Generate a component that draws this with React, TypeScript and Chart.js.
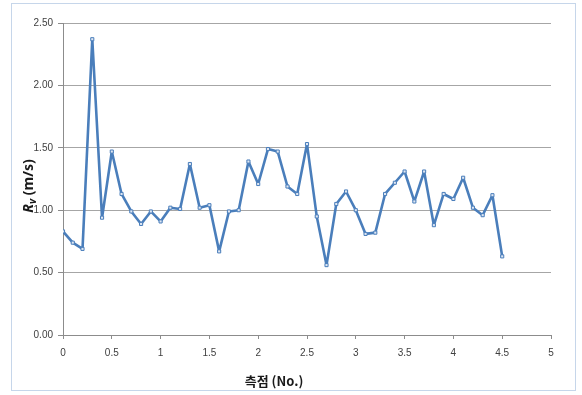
import React, { useEffect, useRef } from "react";
import { Chart, registerables } from "chart.js";

Chart.register(...registerables);

// Measuring stations (No.) along the section
const stations = [
  0, 0.1, 0.2, 0.3, 0.4, 0.5, 0.6, 0.7, 0.8, 0.9,
  1.0, 1.1, 1.2, 1.3, 1.4, 1.5, 1.6, 1.7, 1.8, 1.9,
  2.0, 2.1, 2.2, 2.3, 2.4, 2.5, 2.6, 2.7, 2.8, 2.9,
  3.0, 3.1, 3.2, 3.3, 3.4, 3.5, 3.6, 3.7, 3.8, 3.9,
  4.0, 4.1, 4.2, 4.3, 4.4, 4.5,
];

// Rv (m/s) measured at each station
const rvValues = [
  0.83, 0.74, 0.69, 2.37, 0.94, 1.47, 1.13, 0.99, 0.89, 0.99,
  0.91, 1.02, 1.01, 1.37, 1.02, 1.04, 0.67, 0.99, 1.0, 1.39,
  1.21, 1.49, 1.47, 1.19, 1.13, 1.53, 0.95, 0.56, 1.05, 1.15,
  1.0, 0.81, 0.82, 1.13, 1.22, 1.31, 1.07, 1.31, 0.88, 1.13,
  1.09, 1.26, 1.02, 0.96, 1.12, 0.63,
];

const xTickStep = 0.5;
const yTickStep = 0.5;
const xMax = 5;
const yMax = 2.5;

const xTitle = "측점 (No.)";
const yTitleMain = "R";
const yTitleSub = "v";
const yTitleUnit = " (m/s)";

const lineBlue = "#4a7ebb";
const gridGray = "#a6a6a6";
const axisGray = "#8c8c8c";
const labelColor = "#404040";

// Draws the outer frame and both axis titles (the y title needs a subscript)
const decorPlugin = {
  id: "decor",
  afterDraw(chart: Chart) {
    const ctx = chart.ctx;
    ctx.save();
    ctx.strokeStyle = "#c6d6ea";
    ctx.lineWidth = 1;
    ctx.strokeRect(11.5, 3.5, 564, 387);

    ctx.fillStyle = "#1a1a1a";
    ctx.textBaseline = "middle";
    ctx.textAlign = "center";
    ctx.font = "bold 13px 'Noto Sans CJK KR', 'Noto Sans', sans-serif";
    ctx.fillText(xTitle, 274, 381);

    // rotated y title: R with subscript v, then unit
    ctx.translate(28, 186);
    ctx.rotate(-Math.PI / 2);
    const mainFont = "italic bold 14px 'Noto Sans', sans-serif";
    const subFont = "italic bold 10px 'Noto Sans', sans-serif";
    const unitFont = "bold 14px 'Noto Sans', sans-serif";
    ctx.font = mainFont;
    const wR = ctx.measureText(yTitleMain).width;
    ctx.font = subFont;
    const wV = ctx.measureText(yTitleSub).width;
    ctx.font = unitFont;
    const wU = ctx.measureText(yTitleUnit).width;
    const total = wR + wV + wU;
    let x = -total / 2;
    ctx.textAlign = "left";
    ctx.textBaseline = "alphabetic";
    ctx.font = mainFont;
    ctx.fillText(yTitleMain, x, 5);
    x += wR;
    ctx.font = subFont;
    ctx.fillText(yTitleSub, x, 8);
    x += wV;
    ctx.font = unitFont;
    ctx.fillText(yTitleUnit, x, 5);
    ctx.restore();
  },
};

export default function App() {
  const canvasRef = useRef<HTMLCanvasElement | null>(null);

  useEffect(() => {
    if (!canvasRef.current) return;
    const points = stations.map((s, i) => ({ x: s, y: rvValues[i] }));
    const chart = new Chart(canvasRef.current, {
      type: "line",
      data: {
        datasets: [
          {
            data: points,
            borderColor: lineBlue,
            borderWidth: 2.6,
            borderJoinStyle: "round",
            tension: 0,
            pointStyle: "rect",
            pointRadius: 2.2,
            pointBackgroundColor: "#dfe7f3",
            pointBorderColor: lineBlue,
            pointBorderWidth: 1,
          },
        ],
      },
      options: {
        responsive: false,
        maintainAspectRatio: false,
        animation: false,
        layout: { padding: { left: 0, right: 31, top: 23, bottom: 0 } },
        plugins: {
          legend: { display: false },
          tooltip: { enabled: false },
        },
        scales: {
          x: {
            type: "linear",
            min: 0,
            max: xMax,
            afterFit(scale: any) {
              scale.height = 60;
            },
            ticks: {
              stepSize: xTickStep,
              color: labelColor,
              font: { family: "'Liberation Sans', Arial, sans-serif", size: 10 },
              padding: 8,
              maxRotation: 0,
              autoSkip: false,
              callback: (v: any) => String(Number(Number(v).toFixed(1))),
            },
            grid: {
              drawOnChartArea: false,
              drawTicks: true,
              tickLength: 4,
              color: axisGray,
            },
            border: { color: axisGray, width: 1 },
          },
          y: {
            type: "linear",
            min: 0,
            max: yMax,
            afterFit(scale: any) {
              scale.width = 63;
            },
            ticks: {
              stepSize: yTickStep,
              color: labelColor,
              font: { family: "'Liberation Sans', Arial, sans-serif", size: 10 },
              padding: 5,
              callback: (v: any) => Number(v).toFixed(2),
            },
            grid: {
              color: gridGray,
              tickLength: 5,
              tickColor: axisGray,
            },
            border: { color: axisGray, width: 1 },
          },
        },
      },
      plugins: [decorPlugin],
    });
    return () => chart.destroy();
  }, []);

  return (
    <div style={{ position: "fixed", left: 0, top: 0, width: 582, height: 395, background: "#fff" }}>
      <canvas ref={canvasRef} width={582} height={395} style={{ width: 582, height: 395 }} />
    </div>
  );
}
